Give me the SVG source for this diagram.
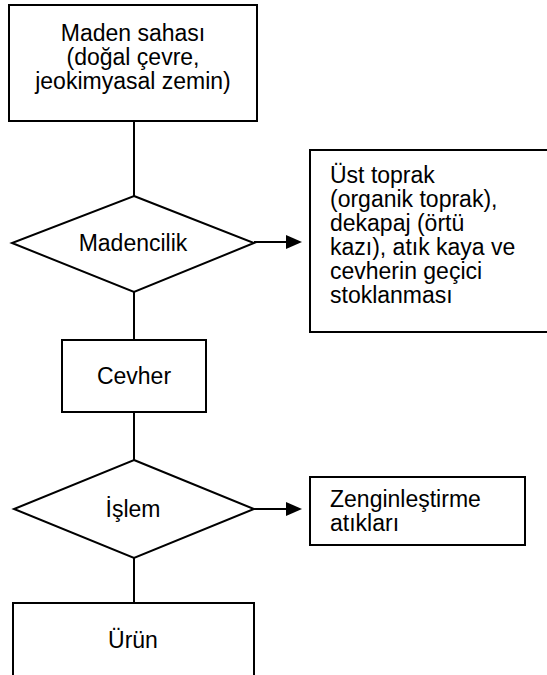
<svg xmlns="http://www.w3.org/2000/svg" width="547" height="675" viewBox="0 0 547 675">
  <defs>
    <style>
      .shape { fill: #ffffff; stroke: #000000; stroke-width: 2; }
      .conn { fill: none; stroke: #000000; stroke-width: 2; }
      .head { fill: #000000; stroke: none; }
      .t { font-family: "Liberation Sans", Arial, sans-serif; font-size: 23px; fill: #000000; }
      .c { text-anchor: middle; }
    </style>
  </defs>
  <rect width="547" height="675" fill="#ffffff"/>

  <g id="connectors">
    <line class="conn" x1="134" y1="121" x2="134" y2="196"/>
    <line class="conn" x1="134" y1="292" x2="134" y2="340"/>
    <line class="conn" x1="134" y1="412" x2="134" y2="460"/>
    <line class="conn" x1="134" y1="558" x2="134" y2="603"/>
    <line class="conn" x1="254" y1="242" x2="288" y2="242"/>
    <polygon class="head" points="286,235 302,242 286,249"/>
    <line class="conn" x1="254" y1="509" x2="288" y2="509"/>
    <polygon class="head" points="286,502 302,509 286,516"/>
  </g>

  <g id="maden-sahasi">
    <rect class="shape" x="9" y="5" width="248" height="116"/>
    <text class="t c" x="133" y="41">Maden sahası</text>
    <text class="t c" x="133" y="65">(doğal çevre,</text>
    <text class="t c" x="133" y="89">jeokimyasal zemin)</text>
  </g>

  <g id="madencilik">
    <polygon class="shape" points="134,196 254,243 134,292 12,243"/>
    <text class="t c" x="133" y="251">Madencilik</text>
  </g>

  <g id="ust-toprak">
    <rect class="shape" x="310" y="150" width="240" height="182"/>
    <text class="t" x="330" y="183">Üst toprak</text>
    <text class="t" x="330" y="207">(organik toprak),</text>
    <text class="t" x="330" y="231">dekapaj (örtü</text>
    <text class="t" x="330" y="255">kazı), atık kaya ve</text>
    <text class="t" x="330" y="279">cevherin geçici</text>
    <text class="t" x="330" y="303">stoklanması</text>
  </g>

  <g id="cevher">
    <rect class="shape" x="62" y="340" width="144" height="72"/>
    <text class="t c" x="134" y="384">Cevher</text>
  </g>

  <g id="islem">
    <polygon class="shape" points="134,460 254,509 134,558 14,509"/>
    <text class="t c" x="133" y="517">İşlem</text>
  </g>

  <g id="zenginlestirme">
    <rect class="shape" x="310" y="477" width="215" height="68"/>
    <text class="t" x="330" y="507">Zenginleştirme</text>
    <text class="t" x="330" y="531">atıkları</text>
  </g>

  <g id="urun">
    <rect class="shape" x="13" y="603" width="241" height="80"/>
    <text class="t c" x="133" y="648">Ürün</text>
  </g>
</svg>
